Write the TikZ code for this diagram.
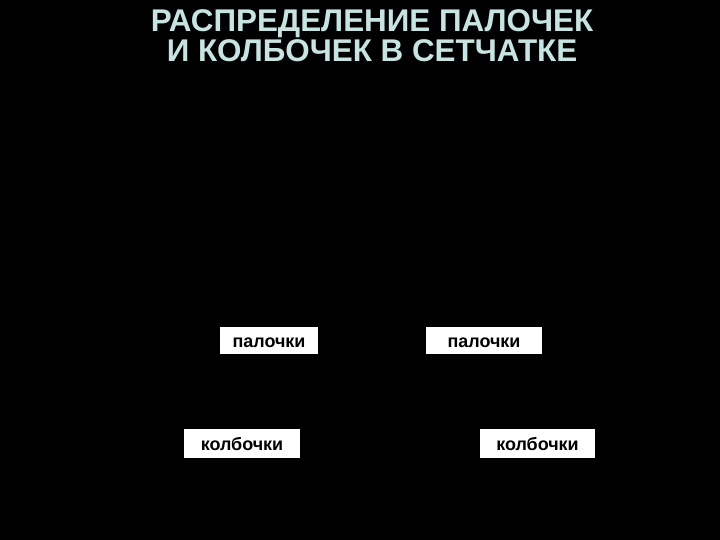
\documentclass[tikz,border=0pt]{standalone}
\usepackage{fontspec}
\setmainfont{Liberation Sans}
\definecolor{titlecol}{HTML}{C8E4E2}
\tikzset{
  labelbox/.style={fill=white, draw=none, inner sep=0pt, anchor=center,
    font=\fontsize{18}{18}\selectfont\bfseries, text=black,
    text height=14bp, text depth=0pt},
  titletext/.style={font=\fontsize{31.5}{30}\selectfont\bfseries, text=titlecol, align=center, inner sep=0pt}
}
\begin{document}
\begin{tikzpicture}[x=1bp,y=-1bp]
\fill[black] (0,0) rectangle (720,540);
\useasboundingbox (0,0) rectangle (720,540);
\node[titletext] (title) at (372,35.5) {РАСПРЕДЕЛЕНИЕ ПАЛОЧЕК\\И КОЛБОЧЕК В СЕТЧАТКЕ};
\node[labelbox, minimum width=98bp, minimum height=27bp] (p1) at (269,340.5) {палочки};
\node[labelbox, minimum width=116bp, minimum height=27bp] (p2) at (484,340.5) {палочки};
\node[labelbox, minimum width=116bp, minimum height=29bp] (k1) at (242,443.5) {колбочки};
\node[labelbox, minimum width=115bp, minimum height=29bp] (k2) at (537.5,443.5) {колбочки};
\end{tikzpicture}
\end{document}
